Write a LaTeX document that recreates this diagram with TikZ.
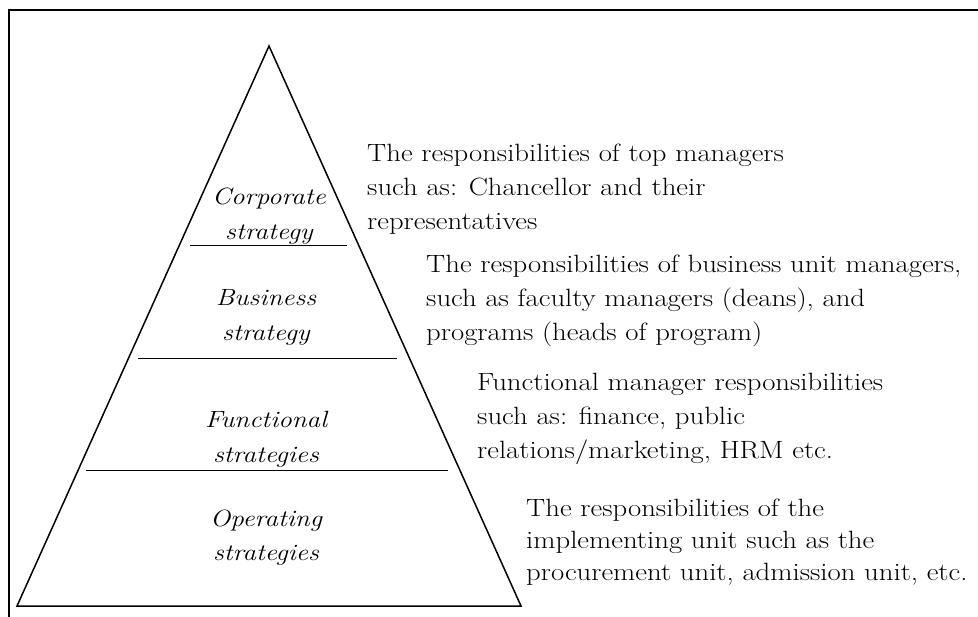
\documentclass[tikz,border=0pt]{standalone}
\usepackage{fontspec}
\setmainfont{Latin Modern Roman}[FakeStretch=1.15]
\begin{document}
\begin{tikzpicture}[x=1pt,y=-1pt]

      \tikzset{layer/.style={font=\fontsize{23.5}{35}\selectfont\itshape, align=center, anchor=base, inner sep=0pt},
               duty/.style={font=\fontsize{25}{34}\selectfont, align=left, anchor=base west, inner sep=0pt},
               edge/.style={line width=1.5pt, line join=miter},
               divider/.style={line width=1pt}}
      \useasboundingbox (0,0) rectangle (978,617);
%% Frame
      	\draw[line width=2pt] (9,617) -- (9,10) -- (978,10);
%% Pyramid
      	\coordinate (apex) at (269,46);
      	\coordinate (bl) at (17,606);
      	\coordinate (br) at (521,606);
      	\draw[edge] (apex) -- (br) -- (bl) -- cycle;
%Dividers
      	\coordinate (d1l) at (190,246); \coordinate (d1r) at (347,246);
      	\coordinate (d2l) at (138,359); \coordinate (d2r) at (397,359);
      	\coordinate (d3l) at (86,471);  \coordinate (d3r) at (448,471);
		\draw[divider] (d1l) -- (d1r);
		\draw[divider] (d2l) -- (d2r);
		\draw[divider] (d3l) -- (d3r);
%% Levels (y = last baseline)
      	\node[layer] (corp) at (269,240) {Corporate\\strategy};
      	\node[layer] (bus) at (266,341) {Business\\strategy};
      	\node[layer] (func) at (266,463) {Functional\\strategies};
      	\node[layer] (oper) at (266,561) {Operating\\strategies};
%% Responsibilities
      	\node[duty] (top) at (367,230) {The responsibilities of top managers\\such as: Chancellor and their\\representatives};
      	\node[duty] (unit) at (426,341) {The responsibilities of business unit managers,\\such as faculty managers (deans), and\\programs (heads of program)};
      	\node[duty] (fman) at (477,459) {Functional manager responsibilities\\such as: finance, public\\relations/marketing, HRM etc.};
      	\node[duty, font=\fontsize{25}{32}\selectfont] (impl) at (526,580) {The responsibilities of the\\implementing unit such as the\\procurement unit, admission unit, etc.};

	\end{tikzpicture}
\end{document}
